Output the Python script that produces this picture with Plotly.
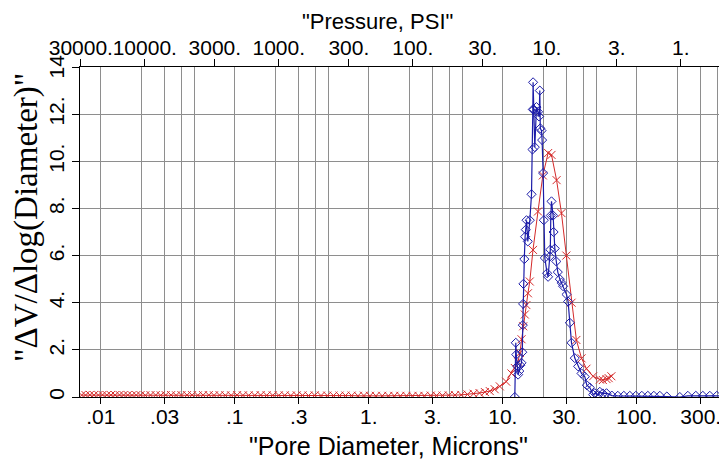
import math
import plotly.graph_objects as go

# ---------------- data ----------------
red_d = [0.0072, 0.0077, 0.0083, 0.0089, 0.0096, 0.0103, 0.0111, 0.0119, 0.0128, 0.0138,
         0.0148, 0.0159, 0.0171, 0.0184, 0.0198, 0.0215, 0.0235, 0.0257, 0.028, 0.0305,
         0.0335, 0.0365, 0.040, 0.044, 0.048, 0.053, 0.058, 0.064, 0.070, 0.077,
         0.085, 0.094, 0.104, 0.115, 0.127, 0.141, 0.156, 0.173, 0.192, 0.213,
         0.236, 0.262, 0.29, 0.32, 0.355, 0.395, 0.44, 0.49, 0.545, 0.605,
         0.67, 0.745, 0.83, 0.92, 1.02, 1.13, 1.26, 1.4, 1.55, 1.72,
         1.91, 2.12, 2.35, 2.6, 2.9, 3.2, 3.55, 3.95, 4.4, 4.9,
         5.45, 6.05, 6.7, 7.35, 8.0, 8.7, 9.5, 10.6, 11.6, 12.3,
         13.0, 13.4, 13.8, 14.2, 14.6, 15.0, 15.4, 15.9, 16.8, 18.3,
         19.9, 21.8, 23.1, 25.2, 27.4, 29.8, 32.6, 35.4, 38.7, 42.1,
         47.2, 53.0, 55.8, 59.4, 61.7, 64.6]
red_v = [0.08, 0.08, 0.09, 0.08, 0.08, 0.09, 0.08, 0.08, 0.08, 0.09,
         0.08, 0.08, 0.07, 0.08, 0.08, 0.07, 0.08, 0.08, 0.07, 0.08,
         0.08, 0.07, 0.08, 0.08, 0.08, 0.07, 0.08, 0.08, 0.07, 0.08,
         0.07, 0.07, 0.08, 0.07, 0.07, 0.07, 0.08, 0.07, 0.07, 0.07,
         0.07, 0.06, 0.07, 0.07, 0.06, 0.07, 0.06, 0.06, 0.06, 0.06,
         0.06, 0.06, 0.05, 0.06, 0.05, 0.05, 0.05, 0.05, 0.05, 0.05,
         0.05, 0.05, 0.05, 0.05, 0.06, 0.06, 0.06, 0.07, 0.08, 0.09,
         0.11, 0.14, 0.17, 0.21, 0.25, 0.33, 0.45, 0.65, 1.0, 1.23,
         1.5, 1.87, 2.45, 3.0, 3.5, 3.9, 4.4, 4.9, 6.24, 7.87,
         9.4, 10.35, 10.27, 9.2, 7.8, 6.0, 4.0, 2.42, 1.64, 1.2,
         0.88, 0.74, 0.72, 0.76, 0.8, 0.88]

blue_d = [12.29, 12.50, 12.61, 12.83, 13.01, 13.28, 13.51, 13.79, 13.98, 14.10,
          14.18, 14.25, 14.47, 14.67, 14.85, 15.03, 15.37, 15.91, 16.38, 16.66,
          16.75, 16.83, 17.03, 17.33, 17.84, 18.34, 18.66, 18.89, 19.05, 19.45,
          19.65, 19.99, 20.23, 20.58, 21.41, 21.78, 22.43, 22.62, 22.82, 23.09,
          23.74, 23.94, 24.44, 25.08, 25.73, 26.63, 27.42, 28.18, 29.88, 30.71,
          31.62, 32.56, 34.45, 36.47, 38.67, 40.93, 42.37, 44.60, 47.20, 48.61,
          51.44, 52.97, 55.77, 59.43, 65.09, 72.14, 79.98, 88.67, 98.3, 109.0,
          120.8, 134.0, 148.5, 167.5, 209.4, 240.3, 275.6, 310.8, 350.6, 395.4,
          446.0]
blue_v = [0.0, 2.3, 1.8, 1.3, 0.95, 1.1, 1.35, 1.45, 1.9, 3.05,
          3.95, 4.8, 5.85, 6.8, 7.1, 7.5, 6.6, 7.5, 8.6, 10.5,
          12.2, 13.35, 12.2, 10.6, 12.3, 12.1, 11.9, 13.0, 11.4, 11.3,
          10.9, 9.5, 7.5, 5.9, 5.25, 5.1, 5.96, 6.25, 7.7, 8.3,
          7.7, 7.0, 6.3, 5.75, 5.3, 5.0, 4.85, 4.7, 4.35, 4.05,
          3.15, 2.3, 1.65, 1.3, 1.0, 0.86, 0.5, 0.4, 0.1, 0.16,
          0.08, 0.22, 0.15, 0.16, 0.06, 0.05, 0.05, 0.05, 0.05, 0.05,
          0.05, 0.05, 0.05, 0.02, 0.0, 0.05, 0.05, 0.05, 0.05, 0.05,
          0.05]

x_tickvals = [0.01, 0.03, 0.1, 0.3, 1, 3, 10, 30, 100, 300]
x_ticktext = [".01", ".03", ".1", ".3", "1.", "3.", "10.", "30.", "100.", "300."]
x_gridvals = [0.02, 0.04, 0.05, 0.2, 0.4, 0.5, 2, 4, 5, 20, 40, 50, 200, 400, 500]

psi_tickvals = [30000, 10000, 3000, 1000, 300, 100, 30, 10, 3, 1]
psi_ticktext = ["30000.", "10000.", "3000.", "1000.", "300.", "100.", "30.", "10.", "3.", "1."]

y_tickvals = [0, 2, 4, 6, 8, 10, 12, 14]
y_ticktext = ["0", "2.", "4.", "6.", "8.", "10.", "12.", "14."]

PSI_CONST = 213.0          # Pressure(psi) * Diameter(micron)
D_MIN, D_MAX = 0.0070, 471.0

# ---------------- styling ----------------
RED = "#d42a2a"
BLUE = "#1c1ca8"
GRID = "#8e8e8e"
SANS = "Liberation Sans, Arial, sans-serif"
SERIF = "Liberation Serif, Times New Roman, serif"
TICKFONT = dict(family=SANS, size=21, color="black")

fig = go.Figure()
fig.add_trace(go.Scatter(
    x=red_d, y=red_v, mode="lines+markers",
    line=dict(color=RED, width=1),
    marker=dict(symbol="x-thin-open", size=8, color=RED, line=dict(color=RED, width=1)),
    showlegend=False, hoverinfo="skip"))
fig.add_trace(go.Scatter(
    x=blue_d, y=blue_v, mode="lines+markers",
    line=dict(color=BLUE, width=1.2),
    marker=dict(symbol="diamond-open", size=7, color=BLUE, line=dict(color=BLUE, width=1)),
    showlegend=False, hoverinfo="skip"))
# invisible helper trace so the pressure axis is drawn
fig.add_trace(go.Scatter(
    x=[PSI_CONST / d for d in red_d], y=red_v, xaxis="x2", mode="markers",
    marker=dict(opacity=0), showlegend=False, hoverinfo="skip"))

# The page body adds an 8 px margin, so layout pixels are offset by OFF.
OFF = 8
W, H = 727, 466
PL, PR, PT, PB = 80, 727, 67, 397          # plot box in screen pixels
L, T = PL - OFF, PT - OFF
R = W - (PR - OFF)
B = H - (PB - OFF)
PW, PH = W - L - R, H - T - B


def px_x(px):
    return (px - OFF - L) / PW


def px_y(py):
    return ((H - B) - (py - OFF)) / PH


fig.update_layout(
    width=W, height=H,
    margin=dict(l=L, r=R, t=T, b=B, pad=0, autoexpand=False),
    paper_bgcolor="white", plot_bgcolor="white",
    xaxis=dict(
        type="log", range=[math.log10(D_MIN), math.log10(D_MAX)], automargin=False,
        tickvals=x_tickvals, ticktext=x_ticktext, tickfont=TICKFONT, tickangle=0,
        ticks="outside", ticklen=6, tickcolor="black", tickwidth=1, ticklabelstandoff=-5,
        showline=True, linecolor="black", linewidth=1.2, mirror=False,
        showgrid=True, gridcolor=GRID, gridwidth=1, zeroline=False,
        minor=dict(tickvals=x_gridvals, showgrid=True, gridcolor=GRID, gridwidth=1, ticks=""),
    ),
    xaxis2=dict(
        type="log", overlaying="x", side="top", anchor="y", automargin=False,
        range=[math.log10(PSI_CONST / D_MIN), math.log10(PSI_CONST / D_MAX)],
        tickvals=psi_tickvals, ticktext=psi_ticktext, tickfont=TICKFONT, tickangle=0,
        ticks="outside", ticklen=7, tickcolor="black", tickwidth=1, ticklabelstandoff=-4,
        showline=True, linecolor="black", linewidth=1.2,
        showgrid=False, zeroline=False,
    ),
    yaxis=dict(
        range=[0, 14], tickvals=y_tickvals, ticktext=y_ticktext, tickfont=TICKFONT,
        tickangle=-90, ticks="outside", ticklen=7, tickcolor="black", tickwidth=1,
        showline=True, linecolor="black", linewidth=1.2, automargin=False,
        showgrid=True, gridcolor=GRID, gridwidth=1, zeroline=False,
    ),
    annotations=[
        dict(text='"Pressure, PSI"', xref="paper", yref="paper",
             x=px_x(377), y=px_y(22), borderpad=0,
             showarrow=False, xanchor="center", yanchor="middle",
             font=dict(family=SANS, size=22, color="black")),
        dict(text='"Pore Diameter, Microns"', xref="paper", yref="paper",
             x=px_x(388), y=px_y(446),
             showarrow=False, xanchor="center", yanchor="middle",
             font=dict(family=SANS, size=25, color="black")),
        dict(text='"ΔV/Δlog(Diameter)"', xref="paper", yref="paper",
             x=px_x(27), y=px_y(218),
             textangle=-90, showarrow=False, xanchor="center", yanchor="middle",
             font=dict(family=SERIF, size=33, color="black")),
    ],
)

fig.write_html("out.html")
